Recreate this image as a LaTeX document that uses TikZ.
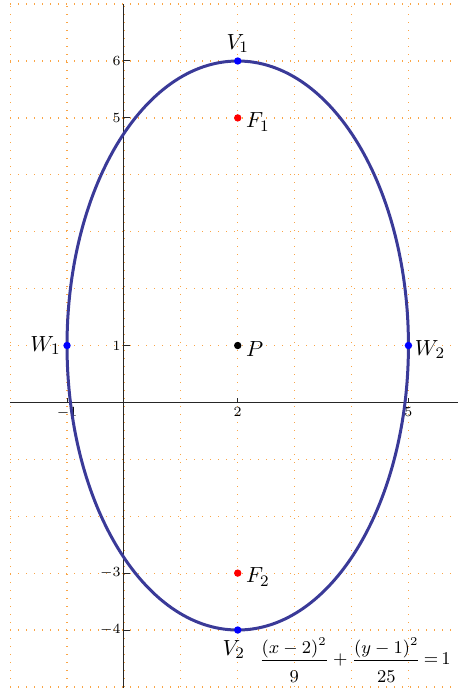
\documentclass[tikz,border=0pt]{standalone}
\definecolor{ellipsecol}{RGB}{58,58,152}
\definecolor{gridcol}{RGB}{250,165,70}
\tikzset{
  gridline/.style={gridcol, line width=0.6pt, dash pattern=on 0.6pt off 3.4pt},
  axisline/.style={black!85, line width=0.5pt},
  ticklabel/.style={font=\fontsize{7.5}{8}\selectfont, inner sep=1.5pt},
  ptlabel/.style={font=\fontsize{11}{13}\selectfont, inner sep=1pt},
  curve/.style={line width=1.5pt, ellipsecol},
}
\begin{document}
\begin{tikzpicture}

  % Define center and semi-axes
  \def\h{2}   % center x
  \def\k{1}   % center y
  \def\ra{3}  % horizontal semi-axis
  \def\rb{5}  % vertical semi-axis
  \def\dotr{0.065}

  \useasboundingbox (-2.178,-5.019) rectangle (5.871,7.072);

  % Draw the grid
  \foreach \x in {-2,...,5} {
    \draw[gridline] (\x,-5) -- (\x,7);
  }
  \foreach \y in {-5,...,7} {
    \draw[gridline] (-2,\y) -- (5.871,\y);
  }

  % Draw the axes
  \coordinate (xmin) at (-2,0);
  \coordinate (xmax) at (5.871,0);
  \coordinate (ymin) at (0,-5.019);
  \coordinate (ymax) at (0,7);
  \draw[axisline] (xmin) -- (xmax);
  \draw[axisline] (ymin) -- (ymax);

  % Ticks and labels
  \foreach \y in {-4,-3,1,5,6} {
    \draw[axisline] (0,\y) -- (0.11,\y);
    \node[ticklabel, left] (ylab\y) at (0,\y) {$\y$};
  }
  \foreach \x in {-1,2,5} {
    \draw[axisline] (\x,0) -- (\x,0.08);
    \node[ticklabel, below] (xlab\x) at (\x,-0.03) {$\x$};
  }

  % Draw the ellipse
  \draw[curve] (\h,\k) ellipse [x radius=\ra, y radius=\rb];

  % Points
  \coordinate (P)  at (\h,\k);
  \coordinate (V1) at (\h,{\k+\rb});
  \coordinate (V2) at (\h,{\k-\rb});
  \coordinate (W1) at ({\h-\ra},\k);
  \coordinate (W2) at ({\h+\ra},\k);
  \coordinate (F1) at (\h,{\k+4});
  \coordinate (F2) at (\h,{\k-4});

  \fill[blue] (V1) circle (\dotr) (V2) circle (\dotr)
              (W1) circle (\dotr) (W2) circle (\dotr);
  \fill[red] (F1) circle (\dotr) (F2) circle (\dotr);
  \fill[black] (P) circle (\dotr);

  % Add labels
  \node[ptlabel, above=3pt] (V1lab) at (V1) {$V_1$};
  \node[ptlabel, below=4pt, xshift=-2pt] (V2lab) at (V2) {$V_2$};
  \node[ptlabel, left=2pt] (W1lab) at (W1) {$W_1$};
  \node[ptlabel, right=2pt, yshift=-2pt] (W2lab) at (W2) {$W_2$};
  \node[ptlabel, right=3pt, yshift=-2pt] (F1lab) at (F1) {$F_1$};
  \node[ptlabel, right=3pt, yshift=-2pt] (F2lab) at (F2) {$F_2$};
  \node[ptlabel, right=3pt, yshift=-2pt] (Plab) at (P) {$P$};

  % Equation
  \node[font=\fontsize{9}{11}\selectfont, inner sep=0pt, anchor=base] (eqn) at (4.06,-4.613)
    {\thickmuskip=3mu
     $\displaystyle \frac{(x-2)^2}{\rule{0pt}{9.5pt}9}+\frac{(y-1)^2}{\rule{0pt}{9.5pt}25}=1$};

\end{tikzpicture}
\end{document}
